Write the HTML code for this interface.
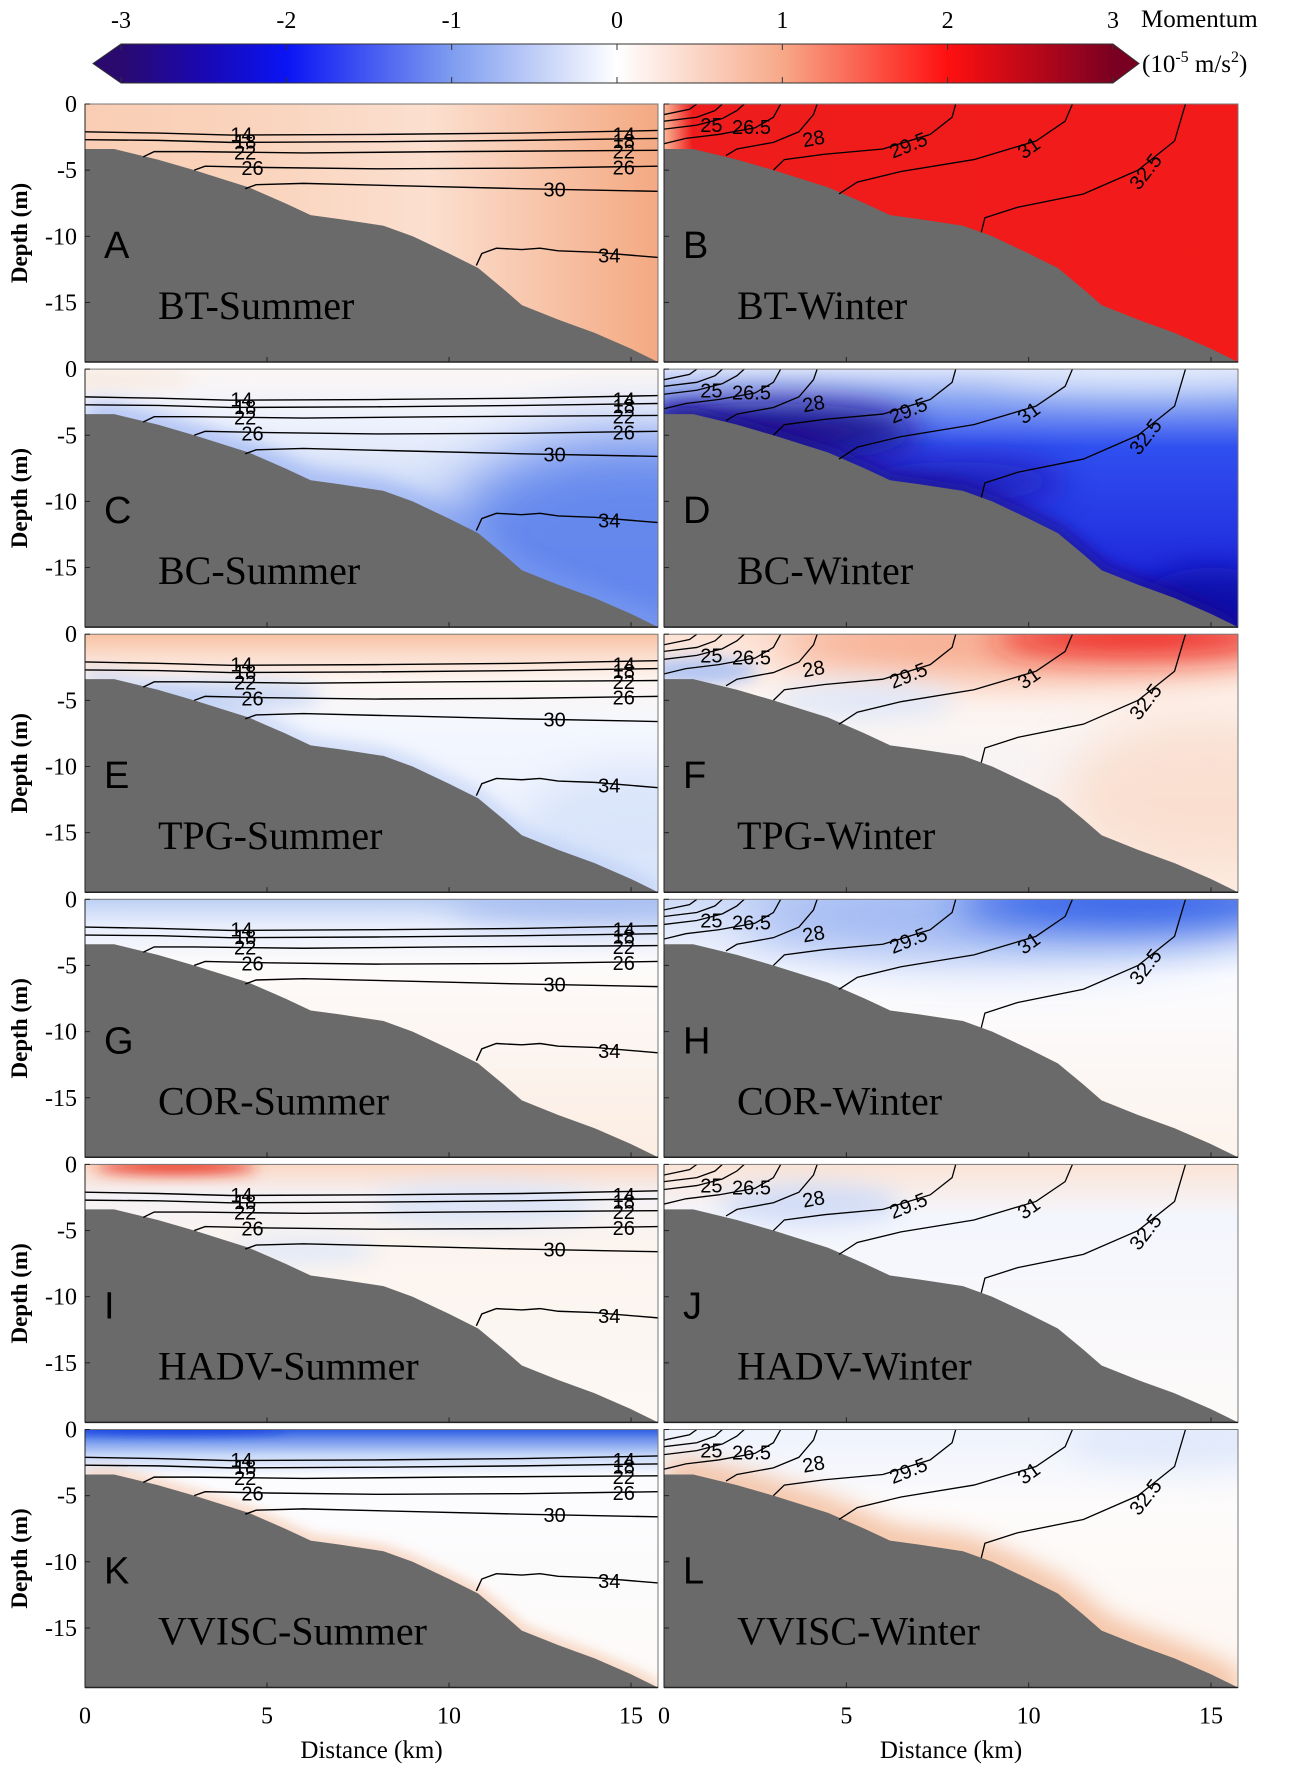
<!DOCTYPE html>
<html><head><meta charset="utf-8">
<style>
html,body{margin:0;padding:0;background:#fff;}
svg{display:block;}
.serif{font-family:"Liberation Serif",serif;}
.sans{font-family:"Liberation Sans",sans-serif;}
.cl{font-family:"Liberation Sans",sans-serif;font-size:20px;fill:#000;}
</style></head>
<body>
<svg id="fig" width="1289" height="1772" viewBox="0 0 1289 1772" xmlns="http://www.w3.org/2000/svg">
<defs>
<linearGradient id="cbGrad" gradientUnits="userSpaceOnUse" x1="121" y1="0" x2="1113" y2="0">
<stop offset="0" stop-color="#2a0a6e"/><stop offset="0.08" stop-color="#1a08b0"/>
<stop offset="0.167" stop-color="#0a14f4"/><stop offset="0.333" stop-color="#7e9cf0"/>
<stop offset="0.5" stop-color="#ffffff"/><stop offset="0.667" stop-color="#f7a888"/>
<stop offset="0.833" stop-color="#ff1010"/><stop offset="1" stop-color="#7a0022"/>
</linearGradient>
</defs>
<g id="colorbar"></g>
<g id="panels"></g>
</svg>
<script>
// ---------- data ----------
const cbTicks = [-3,-2,-1,0,1,2,3];
const yTicks = [0,-5,-10,-15];
const xTicks = [0,5,10,15];
const xMaxKm = 15.74, depthMin = -19.5;
const bathyKm    = [0,0.8,2,3,4.5,5.5,6.2,7,8.2,9,10,10.8,11.5,12,13,14,15,15.74];
const bathyDepth = [-3.4,-3.4,-4.2,-5,-6.3,-7.5,-8.4,-8.7,-9.2,-10,-11.3,-12.4,-14,-15.2,-16.3,-17.3,-18.5,-19.5];
const summerLevels = ["14","18","22","26","30","34"];
const summerKm = [
 [0,2,4,8,12,15.74],
 [0,2,4,8,12,15.74],
 [1.6,1.9,3,6,10,15.74],
 [3.0,3.3,5,8,12,15.74],
 [4.4,4.7,6,9,12,15.74],
 [10.75,10.9,11.3,12,12.5,13,14,15.74]];
const summerDepth = [
 [-2.1,-2.2,-2.35,-2.3,-2.2,-2.0],
 [-2.7,-2.75,-2.9,-2.85,-2.75,-2.6],
 [-4.0,-3.6,-3.6,-3.7,-3.6,-3.5],
 [-5.0,-4.7,-4.8,-4.9,-4.85,-4.7],
 [-6.4,-6.1,-6.0,-6.2,-6.4,-6.6],
 [-12.2,-11.3,-10.9,-11.0,-10.9,-11.1,-11.2,-11.6]];
const summerLabelKm    = [[4.3,14.8],[4.4,14.8],[4.4,14.8],[4.6,14.8],[12.9],[14.4]];
const summerLabelDepth = [[-2.3,-2.3],[-2.85,-2.8],[-3.65,-3.6],[-4.85,-4.8],[-6.45],[-11.45]];
const winterLevels = ["","","25","26.5","28","29.5","31","32.5"];
const winterKm = [
 [0,0.7,0.9],
 [0,0.9,1.4,1.6],
 [0,0.9,1.6,2.0,2.2],
 [0,0.6,1.5,2.5,3.0,3.2],
 [1.7,2.0,3.0,3.7,4.1,4.2],
 [3.0,3.3,4.4,6,7.3,7.9,8.0],
 [4.8,5.3,6.5,8.5,10.2,11.0,11.2],
 [8.7,8.8,9.7,11.5,13,14.0,14.3]];
const winterDepth = [
 [-0.8,-0.4,0],
 [-1.3,-1.0,-0.5,0],
 [-1.9,-1.6,-1.1,-0.5,0],
 [-3.0,-2.6,-2.3,-1.8,-1.0,0],
 [-3.9,-3.4,-2.9,-2.1,-0.8,0],
 [-5.0,-4.2,-3.8,-3.4,-2.3,-1.0,0],
 [-6.8,-5.9,-5.1,-4.2,-2.8,-1.3,0],
 [-9.7,-8.6,-7.8,-6.8,-5.0,-2.8,0]];
const winterLabelKm    = [null,null,1.3,2.4,4.1,6.7,10.0,13.2];
const winterLabelDepth = [null,null,-1.6,-1.75,-2.6,-3.1,-3.3,-5.1];
const winterLabelAngle = [0,0,0,0,-10,-22,-35,-52];
const panelTitles  = ["BT-Summer","BT-Winter","BC-Summer","BC-Winter","TPG-Summer","TPG-Winter","COR-Summer","COR-Winter","HADV-Summer","HADV-Winter","VVISC-Summer","VVISC-Winter"];
const panelLetters = ["A","B","C","D","E","F","G","H","I","J","K","L"];

// ---------- layout ----------
const NS="http://www.w3.org/2000/svg";
const colX=[[85,658],[664,1238]];
const rowTop0=104, rowPitch=265.1, panelH=258;
function mk(tag,attrs,parent){const e=document.createElementNS(NS,tag);for(const k in attrs)e.setAttribute(k,attrs[k]);if(parent)parent.appendChild(e);return e;}

const cb=document.getElementById('colorbar');
const cbPoly=mk('polygon',{points:"93,63.5 121,44 1113,44 1139,63.5 1113,83 121,83",fill:"url(#cbGrad)",stroke:"#333","stroke-width":"1"},cb);


const cbx=v=>121+(v+3)/6*(1113-121);
cbTicks.forEach(v=>{
  const x=cbx(v);
  const t1=mk('line',{x1:x,y1:44,x2:x,y2:50,stroke:"#333","stroke-width":"1"},cb);
  
  
  const t2=mk('line',{x1:x,y1:77,x2:x,y2:83,stroke:"#333","stroke-width":"1"},cb);
  
  
  const tl=mk('text',{class:"serif",x:x,y:28,"text-anchor":"middle","font-size":"24"},cb);
  tl.textContent=String(v);
  
  
});
const cbt=mk('text',{class:"serif",x:1141,y:27,"font-size":"25"},cb);cbt.textContent="Momentum";


const cbu=mk('text',{class:"serif",x:1142,y:72,"font-size":"25"},cb);
cbu.innerHTML='(10<tspan dy="-10" font-size="16">-5</tspan><tspan dy="10"> m/s</tspan><tspan dy="-10" font-size="16">2</tspan><tspan dy="10">)</tspan>';



const fields=[
 {grad:["h",[[0,"#f9ceb4"],[0.3,"#fad4bd"],[0.6,"#fbdfcf"],[1,"#f4a982"]]],blobs:[]},
 {grad:["h",[[0,"#f8b898"],[0.05,"#ee1c1c"],[1,"#f31a1a"]]],blobs:[]},
 {grad:["v",[[0,"#fbf6f4"],[0.2,"#eef2fc"],[0.6,"#c4d4f6"],[1,"#a0baf2"]]],blobs:[[15,-13,5,8,"#5a80ec",0.9,30],[0.5,-0.8,2.5,0.8,"#f8e4d6",0.6,8]],edge:["#7e9cf0",18,10,0.7]},
 {grad:["v",[[0,"#dce4fa"],[0.12,"#8aa6f2"],[0.3,"#3050f0"],[1,"#1818d4"]]],blobs:[[3,-4.8,4,2.2,"#1c0c88",1,18],[8,-8.5,3,1.5,"#1a10a8",0.8,18],[15,-18,2,3,"#1010a0",0.8,15],[13,0,4,1.5,"#e4ecfc",0.8,20]],edge:["#1c0c90",14,8,0.9]},
 {grad:["v",[[0,"#f7c2a2"],[0.08,"#fbdccc"],[0.18,"#fdf6f2"],[0.35,"#f4f7fe"],[1,"#e6eefc"]]],blobs:[[4,-4.6,2.5,1,"#b8ccf4",0.8,10],[15,-15,3,5,"#d6e2fa",0.8,20]],edge:["#b4c8f4",14,8,0.7]},
 {grad:["v",[[0,"#fde2d4"],[0.25,"#fdf6f2"],[0.5,"#f8f4f4"],[1,"#fdeee4"]]],blobs:[[10,-0.8,7,2.5,"#f5a080",0.85,22],[13,-0.3,4,1.3,"#ee1c1c",1,16],[1,-2.8,1.6,1,"#a8c0f4",0.9,8],[15,-12,4,6,"#fad8c4",0.7,25],[5.5,-5,2.5,1.5,"#dce6fa",0.8,12]]},
 {grad:["v",[[0,"#bcd0f4"],[0.1,"#e8eefc"],[0.25,"#fdfbfb"],[1,"#fcede2"]]],blobs:[[14,-0.5,4,1.5,"#a0b8f0",0.8,15]]},
 {grad:["v",[[0,"#d0dcf8"],[0.3,"#fbfcff"],[1,"#fdf3ec"]]],blobs:[[9,-1.5,7,3,"#90acf0",0.8,25],[13,-0.3,5,1.8,"#2858e8",1,20]]},
 {grad:["v",[[0,"#fbd8c4"],[0.12,"#f4f2f6"],[0.3,"#fbf4ef"],[1,"#fdf8f4"]]],blobs:[[2.5,-0.2,2.2,0.5,"#e82818",1,7],[11,-3,3,1.5,"#d4e0f8",0.8,12],[6,-6.5,2,1,"#dce6fa",0.8,10]]},
 {grad:["v",[[0,"#fbe4d6"],[0.2,"#f4f6fd"],[1,"#fdfaf8"]]],blobs:[[4,-3,2.5,1.5,"#c8d6f6",0.8,12]]},
 {grad:["v",[[0,"#2c5ce4"],[0.04,"#7094ec"],[0.1,"#c8d8f8"],[0.18,"#fcfcff"],[1,"#fdfaf8"]]],blobs:[[2.5,0,3,0.35,"#1840e0",1,5]],edge:["#f4c0a0",10,6,0.8]},
 {grad:["v",[[0,"#eef3fd"],[0.3,"#fdfbfb"],[1,"#fdf6f0"]]],blobs:[[14,-1,3,2,"#dde7fa",0.8,15]],edge:["#f2b28c",30,12,0.8]}
];

const P=document.getElementById('panels');
const defs=document.querySelector('defs');
for(let i=0;i<12;i++){
  const col=i%2,row=Math.floor(i/2);
  const x0=colX[col][0],x1=colX[col][1];
  const top=rowTop0+row*rowPitch, bot=top+panelH;
  const sx=k=>x0+k/xMaxKm*(x1-x0);
  const sy=d=>top+(d/depthMin)*panelH;
  const sxr=k=>k/xMaxKm*(x1-x0), syr=d=>d/(-depthMin)*panelH;
  const g=mk('g',{},P);
  
  
  const cp=mk('clipPath',{id:'clip'+i},defs);
  mk('rect',{x:x0,y:top,width:x1-x0,height:panelH},cp);
  const f=fields[i];
  const gid='fg'+i;
  const lg=mk('linearGradient',{id:gid,x1:"0",y1:"0",x2:f.grad[0]=="h"?"1":"0",y2:f.grad[0]=="h"?"0":"1"},defs);
  f.grad[1].forEach(s=>mk('stop',{offset:s[0],"stop-color":s[1]},lg));
  const field=mk('g',{"clip-path":"url(#clip"+i+")"},g);
  
  
  mk('rect',{x:x0,y:top,width:x1-x0,height:panelH,fill:"url(#"+gid+")"},field);
  f.blobs.forEach((b,j)=>{
    const fid='bl'+i+'_'+j;
    const fl=mk('filter',{id:fid,x:"-100%",y:"-100%",width:"300%",height:"300%"},defs);
    mk('feGaussianBlur',{stdDeviation:b[6]},fl);
    mk('ellipse',{cx:sx(b[0]),cy:sy(b[1]),rx:sxr(b[2]),ry:syr(b[3]),fill:b[4],opacity:b[5],filter:"url(#"+fid+")"},field);
  });
  const bpts=bathyKm.map((k,j)=>sx(k)+","+sy(bathyDepth[j])).join(" ");
  if(f.edge){
    const fid='ed'+i;
    const fl=mk('filter',{id:fid,x:"-20%",y:"-20%",width:"140%",height:"140%"},defs);
    mk('feGaussianBlur',{stdDeviation:f.edge[2]},fl);
    mk('polyline',{points:bpts,fill:"none",stroke:f.edge[0],"stroke-width":f.edge[1],opacity:f.edge[3],filter:"url(#"+fid+")"},field);
  }
  const bp=mk('polygon',{points:sx(0)+","+bot+" "+bpts+" "+sx(xMaxKm)+","+bot,fill:"#6a6a6a"},field);
  
  
  const cg=mk('g',{"clip-path":"url(#clip"+i+")"},g);
  
  
  if(col==0){
    summerKm.forEach((ks,c)=>{
      const pl=mk('polyline',{points:ks.map((k,j)=>sx(k)+","+sy(summerDepth[c][j])).join(" "),fill:"none",stroke:"#000","stroke-width":"1.4"},cg);
      
      
      summerLabelKm[c].forEach((k,j)=>{
        const t=mk('text',{class:"cl",x:sx(k),y:sy(summerLabelDepth[c][j])+7,"text-anchor":"middle"},cg);
        t.textContent=summerLevels[c];
        
        
      });
    });
  } else {
    winterKm.forEach((ks,c)=>{
      const pl=mk('polyline',{points:ks.map((k,j)=>sx(k)+","+sy(winterDepth[c][j])).join(" "),fill:"none",stroke:"#000","stroke-width":"1.3"},cg);
      
      
      if(winterLabelKm[c]!==null){
        const lx=sx(winterLabelKm[c]),ly=sy(winterLabelDepth[c]);
        const t=mk('text',{class:"cl",x:lx,y:ly+7,"text-anchor":"middle",transform:"rotate("+winterLabelAngle[c]+" "+lx+" "+ly+")"},cg);
        t.textContent=winterLevels[c];
        
        
      }
    });
  }
  const fr=mk('rect',{x:x0,y:top,width:x1-x0,height:panelH,fill:"none",stroke:"#777","stroke-width":"1"},g);
  
  
  mk('line',{x1:x0,y1:bot,x2:x1,y2:bot,stroke:"#222","stroke-width":"1.5"},g);
  mk('line',{x1:x0,y1:top,x2:x0,y2:bot,stroke:"#222","stroke-width":"1"},g);
  yTicks.forEach(v=>{
    const y=sy(v);
    const tk=mk('line',{x1:x0,y1:y,x2:x0+5,y2:y,stroke:"#222","stroke-width":"1"},g);
    
    
    if(col==0){
      const tl=mk('text',{class:"serif",x:x0-8,y:y+8,"text-anchor":"end","font-size":"24"},g);
      tl.textContent=String(v);
      
      
    }
  });
  xTicks.forEach(v=>{
    const x=sx(v);
    const tk=mk('line',{x1:x,y1:bot,x2:x,y2:bot-5,stroke:"#222","stroke-width":"1"},g);
    
    
    if(row==5){
      const tl=mk('text',{class:"serif",x:x,y:bot+36,"text-anchor":"middle","font-size":"24"},g);
      tl.textContent=String(v);
      
      
    }
  });
  const lt=mk('text',{class:"sans",x:x0+19,y:top+154,"font-size":"38"},g);
  lt.textContent=panelLetters[i];
  
  
  const tt=mk('text',{class:"serif",x:x0+73,y:top+215,"font-size":"40"},g);
  tt.textContent=panelTitles[i];
  
  
  if(col==0){
    const yl=mk('text',{class:"serif",x:0,y:0,"font-size":"23","font-weight":"bold","text-anchor":"middle",transform:"translate(27,"+(top+panelH/2)+") rotate(-90)"},g);
    yl.textContent="Depth (m)";
    
    
  }
  if(row==5){
    const xl=mk('text',{class:"serif",x:(x0+x1)/2,y:1758,"font-size":"25","text-anchor":"middle"},g);
    xl.textContent="Distance (km)";
    
    
  }
}
</script>
</body></html>
